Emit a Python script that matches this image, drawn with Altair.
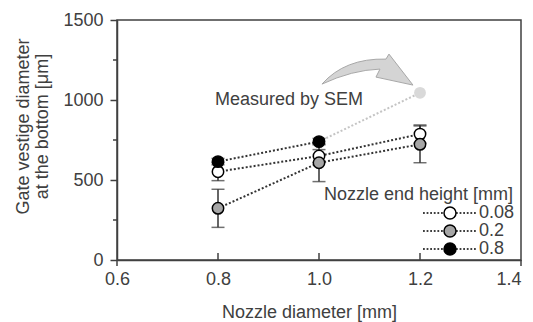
import altair as alt
import pandas as pd

# ---- data ----
nozzle = [0.8, 1.0, 1.2]
heights = ["0.08", "0.2", "0.8"]
h008 = [552, 650, 787]
h008_err = [56, 40, 57]
h02 = [323, 608, 723]
h02_err = [119, 118, 115]
h08 = [615, 740]
h08_err = [20, 20]
sem_x = [1.0, 1.2]
sem_y = [740, 1045]
sem_label = "Measured by SEM"
label_pos = [0.794, 969]
arrow_pos = [1.095, 1187]
x_ticks = [0.6, 0.8, 1.0, 1.2, 1.4]
x_inner_ticks = [0.8, 1.0, 1.2]
x_end_ticks = [0.6, 1.4]
y_ticks = [0, 500, 1000, 1500]
y_minor = [250, 750, 1250]
fills = ["#ffffff", "#a6a6a6", "#000000"]

rows = []
for s, ys, es in [("0.08", h008, h008_err), ("0.2", h02, h02_err), ("0.8", h08, h08_err)]:
    for xv, yv, ev in zip(nozzle, ys, es):
        rows.append({"series": s, "x": xv, "y": yv, "lo": yv - ev, "hi": yv + ev})
df = pd.DataFrame(rows)
sem_df = pd.DataFrame({"x": sem_x, "y": sem_y})
sem_pt = sem_df.iloc[[1]]

FONT = "Liberation Sans"
TXT = "#404040"
AX = "#404040"

xscale = alt.Scale(domain=[0.6, 1.4], nice=False, zero=False)
yscale = alt.Scale(domain=[0, 1500], nice=False)
xaxis = alt.Axis(values=x_ticks, format=".1f", tickSize=0, labelPadding=10,
                 labelFlush=False,
                 labelAlign=alt.condition(f"datum.value >= {x_ticks[-1]}",
                                          alt.value("right"), alt.value("center")),
                 title="Nozzle diameter [mm]", titleX=192, titleY=57,
                 titleBaseline="alphabetic", titleAlign="center", grid=False)
yaxis = alt.Axis(values=y_ticks, format="d", tickSize=7, labelPadding=7,
                 labelFlush=False,
                 title=["Gate vestige diameter", "at the bottom [μm]"],
                 titleX=-94, titleY=106, titleAngle=270, titleAlign="center",
                 titleBaseline="middle", titleLineHeight=19, grid=False)


def X(field="x"):
    return alt.X(f"{field}:Q", scale=xscale, axis=xaxis)


def Y(field="y"):
    return alt.Y(f"{field}:Q", scale=yscale, axis=yaxis)


# legend symbol: dotted line + circle
dots = []
v = -4.5
while v < -1.0:
    dots.append(f"M{v:.2f},0L{min(v + 0.3, -1.0):.2f},0")
    v += 0.6
v = 1.0
while v < 4.5:
    dots.append(f"M{v:.2f},0L{min(v + 0.3, 4.5):.2f},0")
    v += 0.6
legend_path = "M1,0A1,1 0 1,1 -1,0A1,1 0 1,1 1,0Z" + "".join(dots)

arrow_path = ("M-0.9,0.28 Q-0.44,-0.24 0.38,-0.22 L0.44,-0.32 L0.92,0.3 "
              "L0.18,0.14 L0.26,-0.02 Q-0.3,0 -0.9,0.28 Z")

base = alt.Chart(df)

lines = base.mark_line(strokeDash=[2, 2], color="#333333", strokeWidth=2).encode(
    x=X(), y=Y(), detail="series:N")

sem_line = alt.Chart(sem_df).mark_line(strokeDash=[2, 2], color="#c4c4c4", strokeWidth=2).encode(
    x=X(), y=Y())

sem_point = alt.Chart(sem_pt).mark_circle(size=140, color="#d9d9d9", opacity=1).encode(
    x=X(), y=Y())

err = base.mark_rule(color="#333333", strokeWidth=1.5).encode(
    x=X(), y=Y("lo"), y2="hi:Q")
cap_lo = base.mark_tick(orient="horizontal", size=13, thickness=1.5, color="#333333").encode(
    x=X(), y=Y("lo"))
cap_hi = base.mark_tick(orient="horizontal", size=13, thickness=1.5, color="#333333").encode(
    x=X(), y=Y("hi"))

points = base.mark_circle(size=130, stroke="black", strokeWidth=1.5, opacity=1).encode(
    x=X(), y=Y(),
    fill=alt.Fill("series:N", sort=heights,
                  scale=alt.Scale(domain=heights, range=fills),
                  legend=alt.Legend(title="Nozzle end height [mm]", orient="none",
                                    legendX=207, legendY=166, symbolType=legend_path,
                                    symbolSize=144, symbolStrokeColor="black",
                                    symbolStrokeWidth=1.5, symbolOffset=117,
                                    symbolOpacity=1, titleLimit=400,
                                    labelOffset=20, titlePadding=0, rowPadding=0,
                                    padding=0)))

label = alt.Chart(pd.DataFrame({"x": [label_pos[0]], "y": [label_pos[1]], "t": [sem_label]})).mark_text(
    align="left", baseline="alphabetic", fontSize=18, font=FONT, color=TXT).encode(
    x=X(), y=Y(), text="t:N")

arrow = alt.Chart(pd.DataFrame({"x": [arrow_pos[0]], "y": [arrow_pos[1]]})).mark_point(
    shape=arrow_path, size=10000, filled=True, fill="#d4d4d4", stroke="#a8a8a8",
    strokeWidth=1, opacity=1).encode(x=X(), y=Y())

minor = alt.Chart(pd.DataFrame({"y": y_minor})).mark_rule(color=AX, strokeWidth=1.5).encode(
    y=Y(), x=alt.value(-4), x2=alt.value(0))

xin = alt.Chart(pd.DataFrame({"x": x_inner_ticks})).mark_rule(color=AX, strokeWidth=1.5).encode(
    x=X(), y=alt.value(240), y2=alt.value(233))

xend = alt.Chart(pd.DataFrame({"x": x_end_ticks})).mark_rule(color=AX, strokeWidth=1.5).encode(
    x=X(), y=alt.value(240), y2=alt.value(246))

chart = alt.layer(
    minor, xin, xend, arrow, label, sem_line, lines, err, cap_lo, cap_hi, sem_point, points
).properties(
    width=404, height=240,
    autosize=alt.AutoSizeParams(type="none"),
    padding={"left": 109, "top": 12, "right": 4, "bottom": 62},
).configure_view(
    stroke=AX, strokeWidth=1.5
).configure_axis(
    domainColor=AX, domainWidth=1.5, tickColor=AX, tickWidth=1.5,
    labelFont=FONT, labelFontSize=18, labelColor=TXT,
    titleFont=FONT, titleFontSize=18, titleColor=TXT, titleFontWeight="normal",
).configure_legend(
    labelFont=FONT, labelFontSize=18, labelColor=TXT,
    titleFont=FONT, titleFontSize=18, titleColor=TXT, titleFontWeight="normal",
)

chart.save("out.html", embed_options={"renderer": "svg", "actions": False})
